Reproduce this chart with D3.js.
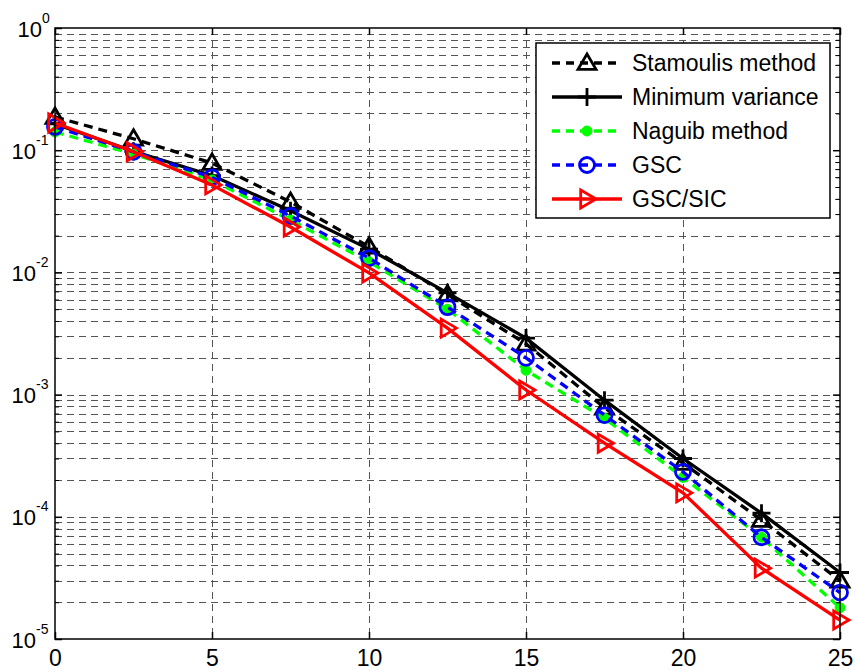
<!DOCTYPE html>
<html>
<head>
<meta charset="utf-8">
<script src="https://cdn.jsdelivr.net/npm/d3@7"></script>
<style>
  body { margin: 0; background: #fff; }
  svg { display: block; font-family: "Liberation Sans", Arial, sans-serif; }
</style>
</head>
<body>
<div id="chart"></div>
<script>
// SNR values on the x axis
const snr = [0, 2.5, 5, 7.5, 10, 12.5, 15, 17.5, 20, 22.5, 25];

// BER curves
const stamoulis = [0.187, 0.124, 0.0785, 0.0377, 0.0162, 0.0066, 0.0026, 0.00078, 0.000275, 9.4e-5, 3.0e-5];
const minVariance = [0.164, 0.098, 0.062, 0.032, 0.0155, 0.0068, 0.0029, 0.00090, 0.00030, 1.07e-4, 3.5e-5];
const naguib = [0.141, 0.093, 0.057, 0.0268, 0.0122, 0.0050, 0.00158, 0.00064, 0.00021, 6.8e-5, 1.8e-5];
const gsc = [0.155, 0.097, 0.060, 0.029, 0.0131, 0.0052, 0.0020, 0.00068, 0.000233, 6.8e-5, 2.4e-5];
const gscSic = [0.167, 0.097, 0.052, 0.0235, 0.0099, 0.0035, 0.00109, 0.0004, 0.000157, 3.8e-5, 1.43e-5];

const xTicks = [0, 5, 10, 15, 20, 25];
const yExponents = [0, -1, -2, -3, -4, -5];

const seriesNames = ["Stamoulis method", "Minimum variance", "Naguib method", "GSC", "GSC/SIC"];
const seriesData = [stamoulis, minVariance, naguib, gsc, gscSic];

const series = [
  { color: "#000", dash: "9,6", marker: "triUp" },
  { color: "#000", dash: null, marker: "plus" },
  { color: "#00ff00", dash: "9,6", marker: "dot" },
  { color: "#0000ff", dash: "9,6", marker: "circle" },
  { color: "#ff0000", dash: null, marker: "triRight" }
].map((s, i) => ({ ...s, name: seriesNames[i], values: seriesData[i] }));

const width = 856, height = 670;
const mLeft = 55, mRight = 840, mTop = 28, mBottom = 639;

const svg = d3.select("#chart").append("svg")
  .attr("width", width)
  .attr("height", height);

const x = d3.scaleLinear().domain([0, 25]).range([mLeft, mRight]);
const y = d3.scaleLog().domain([1e-5, 1]).range([mBottom, mTop]);

// minor tick values for the log axis
const minorVals = [];
for (let e = -5; e < 0; e++) {
  for (let m = 2; m <= 9; m++) minorVals.push(m * Math.pow(10, e));
}
const majorVals = yExponents.map(e => Math.pow(10, e));

// grid
const grid = svg.append("g")
  .attr("stroke", "#555")
  .attr("stroke-width", 1)
  .attr("stroke-dasharray", "7,5")
  .attr("shape-rendering", "crispEdges");

grid.selectAll(".hg")
  .data(minorVals.concat(majorVals.slice(1, -1)))
  .enter().append("line")
  .attr("x1", mLeft).attr("x2", mRight)
  .attr("y1", d => Math.round(y(d)) + 0.5)
  .attr("y2", d => Math.round(y(d)) + 0.5);

grid.selectAll(".vg")
  .data(xTicks.slice(1, -1))
  .enter().append("line")
  .attr("y1", mTop).attr("y2", mBottom)
  .attr("x1", d => Math.round(x(d)) + 0.5)
  .attr("x2", d => Math.round(x(d)) + 0.5);

// marker shapes
function drawMarker(g, type, color, cx, cy) {
  const s = 9;
  if (type === "triUp") {
    g.append("path")
      .attr("d", `M${cx},${cy - s} L${cx + s},${cy + s * 0.7} L${cx - s},${cy + s * 0.7} Z`)
      .attr("fill", "none").attr("stroke", color).attr("stroke-width", 2.8);
  } else if (type === "triRight") {
    g.append("path")
      .attr("d", `M${cx + s},${cy} L${cx - s * 0.7},${cy - s} L${cx - s * 0.7},${cy + s} Z`)
      .attr("fill", "none").attr("stroke", color).attr("stroke-width", 2.8);
  } else if (type === "plus") {
    g.append("path")
      .attr("d", `M${cx - 9},${cy} H${cx + 9} M${cx},${cy - 9} V${cy + 9}`)
      .attr("fill", "none").attr("stroke", color).attr("stroke-width", 2.8);
  } else if (type === "circle") {
    g.append("circle")
      .attr("cx", cx).attr("cy", cy).attr("r", 7.5)
      .attr("fill", "none").attr("stroke", color).attr("stroke-width", 2.8);
  } else if (type === "dot") {
    g.append("circle")
      .attr("cx", cx).attr("cy", cy).attr("r", 5)
      .attr("fill", color).attr("stroke", color).attr("stroke-width", 1);
  }
}

const line = d3.line()
  .x((d, i) => x(snr[i]))
  .y(d => y(d));

const plot = svg.append("g");
series.forEach(s => {
  const g = plot.append("g");
  g.append("path")
    .datum(s.values)
    .attr("d", line)
    .attr("fill", "none")
    .attr("stroke", s.color)
    .attr("stroke-width", 3.3)
    .attr("stroke-dasharray", s.dash);
  s.values.forEach((v, i) => drawMarker(g, s.marker, s.color, x(snr[i]), y(v)));
});

// axes box
svg.append("rect")
  .attr("x", mLeft).attr("y", mTop)
  .attr("width", mRight - mLeft).attr("height", mBottom - mTop)
  .attr("fill", "none").attr("stroke", "#000").attr("stroke-width", 1.5);

// x axis bottom
const xAxis = svg.append("g")
  .attr("transform", `translate(0,${mBottom})`)
  .call(d3.axisBottom(x).tickValues(xTicks).tickSizeInner(-7).tickSizeOuter(0).tickPadding(11).tickFormat(d3.format("d")));
xAxis.select(".domain").remove();
xAxis.selectAll("line").attr("stroke-width", 1.5);
xAxis.selectAll("text").attr("font-size", 23).attr("fill", "#000")
  .attr("font-family", "Liberation Sans, Arial, sans-serif");

// x axis top ticks
const xTop = svg.append("g")
  .attr("transform", `translate(0,${mTop})`)
  .call(d3.axisTop(x).tickValues(xTicks).tickSizeInner(-7).tickSizeOuter(0).tickFormat(""));
xTop.select(".domain").remove();
xTop.selectAll("line").attr("stroke-width", 1.5);

// y axis left, major
const yAxis = svg.append("g")
  .attr("transform", `translate(${mLeft},0)`)
  .call(d3.axisLeft(y).tickValues(majorVals).tickSizeInner(-7).tickSizeOuter(0).tickFormat(""));
yAxis.select(".domain").remove();
yAxis.selectAll("line").attr("stroke-width", 1.5);
yAxis.selectAll(".tick").each(function(d) {
  const e = Math.round(Math.log10(d));
  const expText = String(e);
  const expW = e < 0 ? 14 : 8;
  d3.select(this).append("text")
    .attr("x", -5 - expW).attr("y", 8)
    .attr("text-anchor", "end")
    .attr("fill", "#000")
    .attr("font-size", 22)
    .text("10");
  d3.select(this).append("text")
    .attr("x", -5 - expW).attr("y", -6)
    .attr("text-anchor", "start")
    .attr("fill", "#000")
    .attr("font-size", 14)
    .text(expText);
});

// y minor ticks left
const yMinor = svg.append("g")
  .attr("transform", `translate(${mLeft},0)`)
  .call(d3.axisLeft(y).tickValues(minorVals).tickSizeInner(-4).tickSizeOuter(0).tickFormat(""));
yMinor.select(".domain").remove();

// y ticks right
const yRight = svg.append("g")
  .attr("transform", `translate(${mRight},0)`)
  .call(d3.axisRight(y).tickValues(majorVals).tickSizeInner(-7).tickSizeOuter(0).tickFormat(""));
yRight.select(".domain").remove();
yRight.selectAll("line").attr("stroke-width", 1.5);
const yRightMinor = svg.append("g")
  .attr("transform", `translate(${mRight},0)`)
  .call(d3.axisRight(y).tickValues(minorVals).tickSizeInner(-4).tickSizeOuter(0).tickFormat(""));
yRightMinor.select(".domain").remove();

// legend
const lg = svg.append("g");
const lgX = 536, lgY = 43, lgW = 294, lgH = 175, rowH = 34;
lg.append("rect")
  .attr("x", lgX).attr("y", lgY).attr("width", lgW).attr("height", lgH)
  .attr("fill", "#fff").attr("stroke", "#000").attr("stroke-width", 1.5);

series.forEach((s, i) => {
  const cy = lgY + 20 + i * rowH;
  const g = lg.append("g");
  g.append("line")
    .attr("x1", lgX + 16).attr("x2", lgX + 86)
    .attr("y1", cy).attr("y2", cy)
    .attr("stroke", s.color).attr("stroke-width", 3.3)
    .attr("stroke-dasharray", s.dash ? "8,6" : null);
  drawMarker(g, s.marker, s.color, lgX + 51, cy);
  g.append("text")
    .attr("x", lgX + 96).attr("y", cy + 8)
    .attr("font-size", 23)
    .attr("fill", "#000")
    .text(s.name);
});
</script>
</body>
</html>
